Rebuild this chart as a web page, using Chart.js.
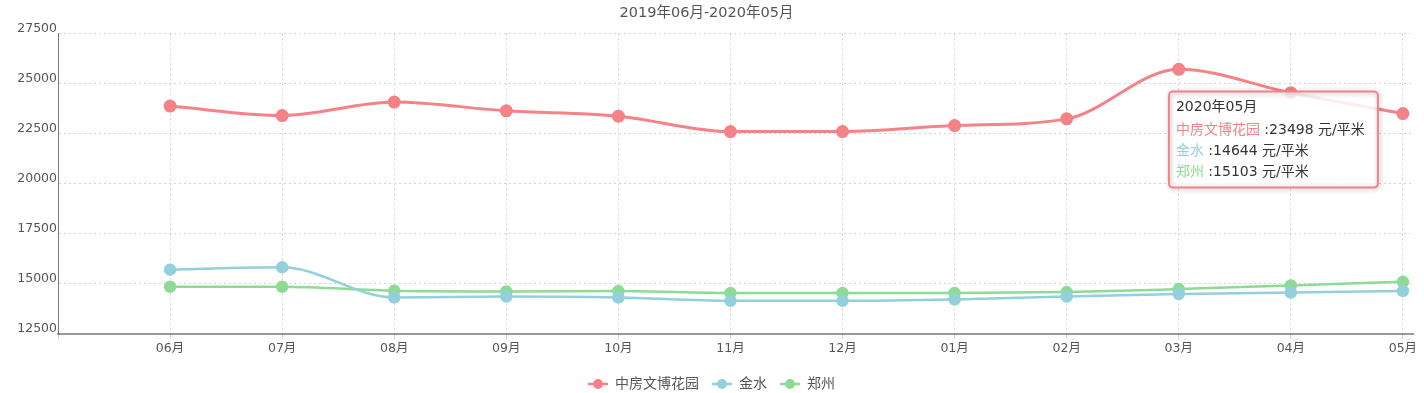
<!DOCTYPE html>
<html>
<head>
<meta charset="utf-8">
<script src="https://cdn.jsdelivr.net/npm/chart.js@4"></script>
<style>
  html, body { margin: 0; padding: 0; background: #fff; }
  #wrap { width: 1424px; height: 393px; position: relative; }
</style>
</head>
<body>
<div id="wrap"><canvas id="lineChart"></canvas></div>
<script>
const months = ['06月', '07月', '08月', '09月', '10月', '11月', '12月', '01月', '02月', '03月', '04月', '05月'];
const seriesNames = ['中房文博花园', '金水', '郑州'];
const wenbo = [23873, 23401, 24073, 23637, 23371, 22600, 22600, 22900, 23235, 25709, 24540, 23498];
const jinshui = [15710, 15827, 14322, 14372, 14322, 14155, 14155, 14222, 14372, 14490, 14573, 14644];
const zhengzhou = [14857, 14857, 14657, 14622, 14640, 14540, 14540, 14540, 14590, 14740, 14924, 15103];
const colors = ['#f58287', '#93d0dc', '#8ddb95']; // pink, light blue, green
const titleText = '2019年06月-2020年05月';
const tipTitle = '2020年05月';
const unit = '元/平米';
const tipIndex = 11;

const FONT = "'DejaVu Sans', 'Noto Sans CJK SC', sans-serif";

// legend marker: short line with a dot, echarts style (left margin = gap to previous item)
function legendIcon(color) {
  const c = document.createElement('canvas');
  c.width = 30; c.height = 12;
  const g = c.getContext('2d');
  g.strokeStyle = color; g.lineWidth = 2.5;
  g.beginPath(); g.moveTo(10, 6); g.lineTo(30, 6); g.stroke();
  g.fillStyle = color;
  g.beginPath(); g.arc(20, 6, 5, 0, Math.PI * 2); g.fill();
  return c;
}

// fixed tooltip box for the last month
const tipBox = {
  id: 'tipBox',
  afterDatasetsDraw(chart) {
    const { ctx, scales } = chart;
    const px = scales.x.getPixelForValue(tipIndex);
    const py = scales.y.getPixelForValue(wenbo[tipIndex]);
    const w = 209, h = 96;
    const bx = px - 25 - w, by = py - 22;
    ctx.save();
    ctx.fillStyle = 'rgba(255,255,255,0.85)';
    ctx.beginPath();
    ctx.roundRect(bx, by, w, h, 4);
    ctx.fill();
    ctx.shadowColor = 'rgba(0,0,0,0.3)';
    ctx.shadowBlur = 5;
    ctx.shadowOffsetX = 1;
    ctx.shadowOffsetY = 1;
    ctx.strokeStyle = colors[0];
    ctx.lineWidth = 2;
    ctx.stroke();
    ctx.shadowColor = 'transparent';
    ctx.font = '14px ' + FONT;
    ctx.textBaseline = 'middle';
    ctx.fillStyle = '#333';
    ctx.fillText(tipTitle, bx + 7, by + 16);
    const vals = [wenbo, jinshui, zhengzhou];
    seriesNames.forEach((name, i) => {
      const y = by + 39 + i * 21;
      ctx.fillStyle = colors[i];
      ctx.fillText(name, bx + 7, y);
      const nw = ctx.measureText(name).width;
      ctx.fillStyle = '#333';
      ctx.fillText(' :' + vals[i][tipIndex] + ' ' + unit, bx + 7 + nw, y);
    });
    ctx.restore();
  }
};

function series(label, values, color) {
  return {
    label: label,
    data: values.map((v, i) => ({ x: i, y: v })),
    borderColor: color,
    backgroundColor: color,
    borderWidth: label === seriesNames[0] ? 3 : 2.5,
    pointRadius: 5,
    pointHoverRadius: 5,
    cubicInterpolationMode: 'monotone'
  };
}

new Chart(document.getElementById('lineChart'), {
  type: 'line',
  data: {
    datasets: [
      series(seriesNames[0], wenbo, colors[0]),
      series(seriesNames[1], jinshui, colors[1]),
      series(seriesNames[2], zhengzhou, colors[2])
    ]
  },
  options: {
    responsive: true,
    maintainAspectRatio: false,
    animation: false,
    events: [],
    layout: { padding: { left: 0, right: 11, top: 1, bottom: -8 } },
    plugins: {
      title: {
        display: true,
        text: titleText,
        color: '#555',
        font: { family: FONT, size: 14.5, weight: 'normal' },
        padding: { top: 4, bottom: 11 }
      },
      legend: {
        position: 'bottom',
        labels: {
          usePointStyle: true,
          pointStyleWidth: 30,
          color: '#555',
          font: { family: FONT, size: 14 },
          padding: 3,
          generateLabels(chart) {
            return chart.data.datasets.map((ds, i) => ({
              text: ds.label,
              pointStyle: legendIcon(ds.borderColor),
              fillStyle: ds.borderColor,
              strokeStyle: ds.borderColor,
              fontColor: '#555',
              lineWidth: 0,
              datasetIndex: i
            }));
          }
        }
      },
      tooltip: { enabled: false }
    },
    scales: {
      x: {
        type: 'linear',
        min: -1,
        max: 11.09,
        grid: { color: '#d4d4d4', tickLength: 5 },
        border: { color: '#999', width: 2, dash: [2, 3] },
        afterFit: (scale) => { scale.height = 40; },
        ticks: {
          stepSize: 1,
          includeBounds: false,
          autoSkip: false,
          maxRotation: 0,
          padding: 2,
          color: '#555',
          font: { family: FONT, size: 12.5 },
          callback: (v) => months[v] || ''
        }
      },
      y: {
        min: 12500,
        max: 27500,
        grid: { color: '#d4d4d4', drawTicks: false },
        border: { color: '#777', width: 1, dash: [2, 3] },
        afterFit: (scale) => { scale.width = 58; },
        ticks: {
          stepSize: 2500,
          padding: 1,
          labelOffset: -5,
          color: '#555',
          font: { family: FONT, size: 12.5 },
          callback: (v) => String(v)
        }
      }
    }
  },
  plugins: [tipBox]
});
</script>
</body>
</html>
